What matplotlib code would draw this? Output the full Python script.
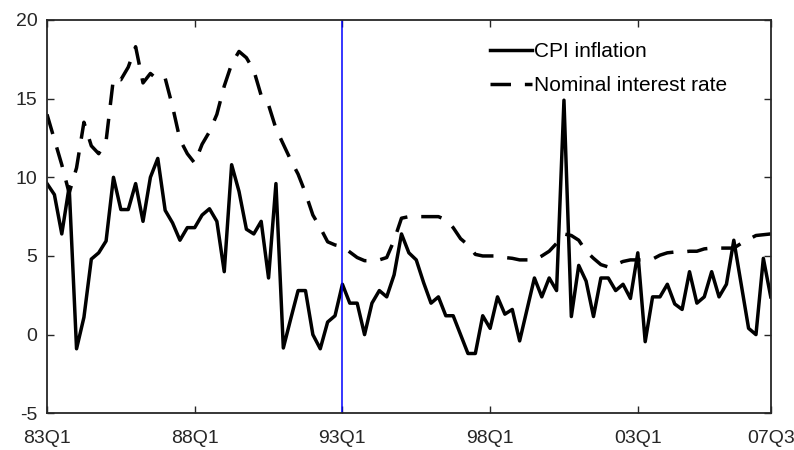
import numpy as np
import matplotlib
matplotlib.use("Agg")
import matplotlib.pyplot as plt

plt.rcParams['font.family'] = ['Liberation Sans', 'DejaVu Sans']
plt.rcParams['axes.unicode_minus'] = False

# quarterly data, 83Q1 .. 07Q3
cpi_inflation = [9.6, 8.9, 6.4, 9.4, -0.9, 1.1, 4.8, 5.2, 5.95, 10.0,
                 7.95, 7.95, 9.6, 7.2, 10.0, 11.2, 7.9, 7.1, 6.0, 6.8,
                 6.8, 7.6, 8.0, 7.2, 4.0, 10.8, 9.1, 6.7, 6.4, 7.2,
                 3.6, 9.6, -0.85, 1.0, 2.8, 2.8, 0.0, -0.9, 0.8, 1.2,
                 3.2, 2.0, 2.0, 0.0, 2.0, 2.8, 2.4, 3.8, 6.4, 5.2,
                 4.75, 3.3, 2.0, 2.4, 1.2, 1.2, 0.0, -1.2, -1.2, 1.2,
                 0.4, 2.4, 1.3, 1.6, -0.4, 1.6, 3.6, 2.4, 3.6, 2.8,
                 14.9, 1.15, 4.4, 3.4, 1.15, 3.6, 3.6, 2.8, 3.2, 2.3,
                 5.2, -0.45, 2.4, 2.4, 3.2, 1.95, 1.6, 4.0, 2.0, 2.4,
                 4.0, 2.4, 3.2, 6.0, 3.2, 0.4, 0.0, 4.85, 2.4]

nominal_rate = [14.0, 12.4, 10.8, 9.0, 10.6, 13.5, 12.0, 11.5, 12.3, 16.3,
                16.2, 17.0, 18.3, 16.0, 16.6, 16.2, 16.3, 14.5, 12.4, 11.5,
                10.9, 12.1, 12.9, 14.0, 15.8, 17.2, 18.0, 17.6, 16.8, 15.2,
                14.6, 13.1, 12.1, 11.1, 10.2, 9.0, 7.6, 6.8, 5.9, 5.7,
                5.6, 5.25, 4.9, 4.7, 4.7, 4.75, 4.9, 6.0, 7.4, 7.5,
                7.5, 7.5, 7.5, 7.5, 7.3, 6.8, 6.1, 5.7, 5.1, 5.0,
                5.0, 5.0, 4.9, 4.85, 4.75, 4.75, 4.75, 5.0, 5.3, 5.8,
                6.4, 6.3, 6.0, 5.3, 4.85, 4.45, 4.3, 4.45, 4.65, 4.75,
                4.75, 4.75, 4.8, 5.05, 5.2, 5.25, 5.25, 5.3, 5.3, 5.45,
                5.5, 5.5, 5.5, 5.5, 5.8, 6.05, 6.3, 6.35, 6.4]

tick_pos = [0, 20, 40, 60, 80, 98]
tick_labels = ['83Q1', '88Q1', '93Q1', '98Q1', '03Q1', '07Q3']
break_quarter = 40  # 93Q1

t = np.arange(len(cpi_inflation))

fig = plt.figure(figsize=(7.94, 4.5), dpi=100)
ax = fig.add_axes([0.0592, 0.0816, 0.9115, 0.874])

ax.plot(t, cpi_inflation, color='black', lw=2.5, label='CPI inflation')
ax.plot(t, nominal_rate, color='black', lw=2.5, dashes=(5.9, 4.0),
        label='Nominal interest rate')
ax.axvline(break_quarter, color='blue', lw=1.1)

ax.set_xlim(0, 98)
ax.set_ylim(-5, 20)
ax.set_xticks(tick_pos)
ax.set_xticklabels(tick_labels)
ax.set_yticks([-5, 0, 5, 10, 15, 20])
ax.tick_params(direction='in', top=True, right=True, length=5, width=1.0,
               color='#262626', labelsize=14, labelcolor='#262626')
ax.tick_params(axis='x', pad=12)
ax.tick_params(axis='y', pad=7)
for s in ax.spines.values():
    s.set_linewidth(1.3)
    s.set_color('#262626')

ax.legend(loc='upper left', bbox_to_anchor=(490 / 794, 1 - 42 / 450),
          bbox_transform=fig.transFigure, frameon=False, fontsize=15,
          handlelength=2.0, handletextpad=0.1, labelspacing=0.72,
          borderpad=0, borderaxespad=0)

fig.savefig('out.png', dpi=100)
